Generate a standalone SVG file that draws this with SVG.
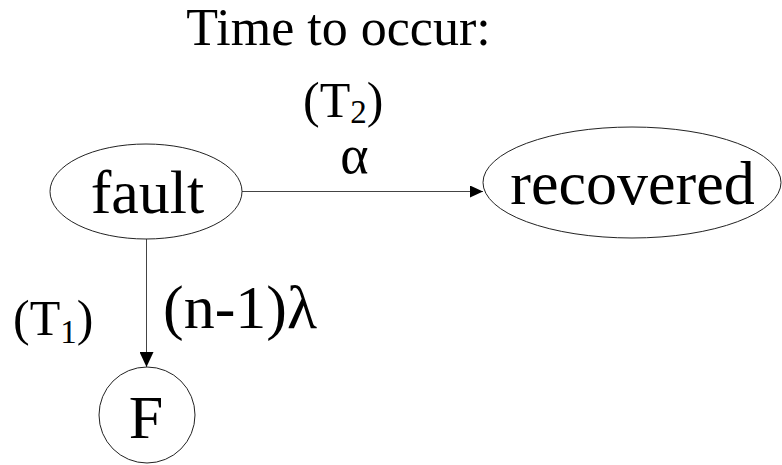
<svg xmlns="http://www.w3.org/2000/svg" width="782" height="465" viewBox="0 0 782 465">
  <style>
    text { font-family: "Liberation Serif", "Times New Roman", serif; fill: #000; }
    .node { fill: #fff; stroke: #222; stroke-width: 1; }
    .edge { stroke: #444; stroke-width: 1; fill: none; }
  </style>
  <defs>
    <marker id="arrowH" markerUnits="userSpaceOnUse" markerWidth="13" markerHeight="12" refX="13" refY="6" orient="auto">
      <path d="M0,0 L13,6 L0,12 z" fill="#000"/>
    </marker>
    <marker id="arrowV" markerUnits="userSpaceOnUse" markerWidth="15" markerHeight="14" refX="15" refY="7" orient="auto">
      <path d="M0,0 L15,7 L0,14 z" fill="#000"/>
    </marker>
  </defs>
  <rect width="782" height="465" fill="#fff"/>

  <text x="338.5" y="45" font-size="52" text-anchor="middle">Time to occur:</text>

  <g id="connectors">
    <line class="edge" x1="242" y1="191.5" x2="483" y2="191.5" marker-end="url(#arrowH)"/>
    <line class="edge" x1="146.5" y1="239" x2="146.5" y2="367" marker-end="url(#arrowV)"/>
    <text x="303" y="117" font-size="50">(T<tspan font-size="33" dy="6">2</tspan><tspan dy="-6">)</tspan></text>
    <text x="354.5" y="173" font-size="54" text-anchor="middle">α</text>
    <text x="13" y="335" font-size="50">(T<tspan font-size="33" dy="8">1</tspan><tspan dy="-8">)</tspan></text>
    <text x="163" y="328" font-size="62">(n-1)λ</text>
  </g>

  <g id="node-fault">
    <ellipse class="node" cx="146" cy="191.5" rx="96" ry="47.5"/>
    <text x="147.5" y="213" font-size="62" text-anchor="middle">fault</text>
  </g>

  <g id="node-recovered">
    <ellipse class="node" cx="632" cy="182.5" rx="149" ry="55.5"/>
    <text x="632.5" y="204" font-size="62" text-anchor="middle">recovered</text>
  </g>

  <g id="node-F">
    <circle class="node" cx="147" cy="415" r="48"/>
    <text x="146" y="438" font-size="62" text-anchor="middle">F</text>
  </g>
</svg>
